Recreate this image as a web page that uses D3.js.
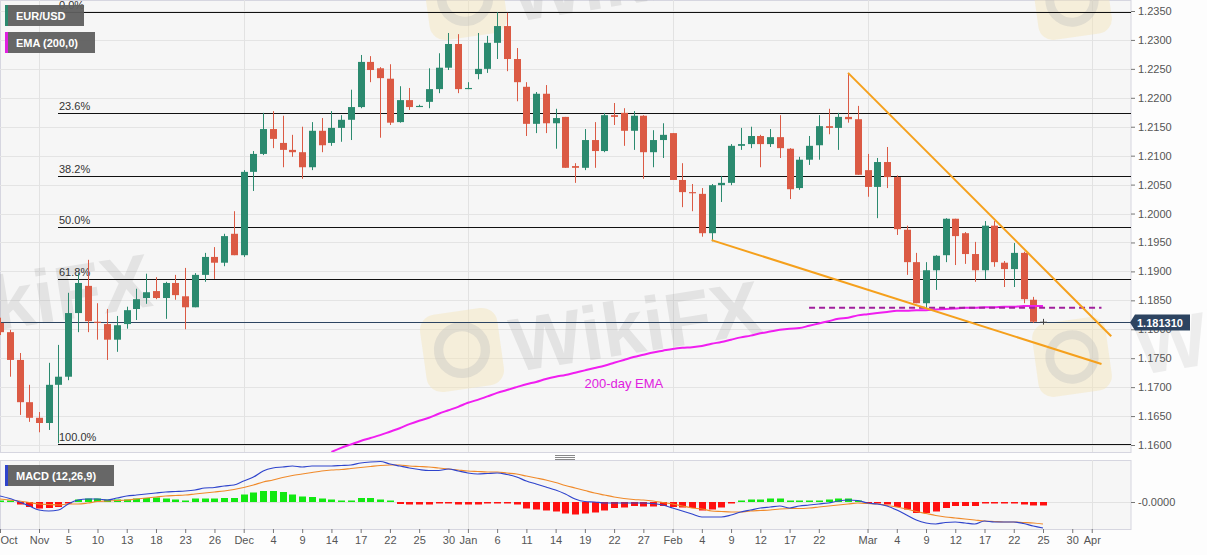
<!DOCTYPE html>
<html>
<head>
<meta charset="utf-8">
<script src="https://cdn.jsdelivr.net/npm/d3@7"></script>
<style>
  body { margin: 0; background: #fdfdfd; }
  svg { display: block; font-family: Arial, "Liberation Sans", sans-serif; }
</style>
</head>
<body>
<div id="chart"></div>
<script>
// trading days shown on the chart
const dates = [
  "2020-10-27","2020-10-28","2020-10-29","2020-10-30",
  "2020-11-02","2020-11-03","2020-11-04","2020-11-05","2020-11-06",
  "2020-11-09","2020-11-10","2020-11-11","2020-11-12","2020-11-13",
  "2020-11-16","2020-11-17","2020-11-18","2020-11-19","2020-11-20",
  "2020-11-23","2020-11-24","2020-11-25","2020-11-26","2020-11-27",
  "2020-11-30","2020-12-01","2020-12-02","2020-12-03","2020-12-04",
  "2020-12-07","2020-12-08","2020-12-09","2020-12-10","2020-12-11",
  "2020-12-14","2020-12-15","2020-12-16","2020-12-17","2020-12-18",
  "2020-12-21","2020-12-22","2020-12-23","2020-12-24","2020-12-25",
  "2020-12-28","2020-12-29","2020-12-30","2020-12-31","2021-01-01",
  "2021-01-04","2021-01-05","2021-01-06","2021-01-07","2021-01-08",
  "2021-01-11","2021-01-12","2021-01-13","2021-01-14","2021-01-15",
  "2021-01-18","2021-01-19","2021-01-20","2021-01-21","2021-01-22",
  "2021-01-25","2021-01-26","2021-01-27","2021-01-28","2021-01-29",
  "2021-02-01","2021-02-02","2021-02-03","2021-02-04","2021-02-05",
  "2021-02-08","2021-02-09","2021-02-10","2021-02-11","2021-02-12",
  "2021-02-15","2021-02-16","2021-02-17","2021-02-18","2021-02-19",
  "2021-02-22","2021-02-23","2021-02-24","2021-02-25","2021-02-26",
  "2021-03-01","2021-03-02","2021-03-03","2021-03-04","2021-03-05",
  "2021-03-08","2021-03-09","2021-03-10","2021-03-11","2021-03-12",
  "2021-03-15","2021-03-16","2021-03-17","2021-03-18","2021-03-19",
  "2021-03-22","2021-03-23","2021-03-24","2021-03-25"
];

// open, high, low, close per day
const ohlc = [
  [1.1811,1.1820,1.1790,1.1795],[1.1795,1.1799,1.1718,1.1747],[1.1747,1.1759,1.1652,1.1674],[1.1674,1.1704,1.1640,1.1647],
  [1.1647,1.1657,1.1622,1.1638],[1.1638,1.1742,1.1626,1.1704],[1.1704,1.1773,1.1603,1.1718],[1.1718,1.1863,1.1712,1.1828],[1.1828,1.1897,1.1795,1.1880],
  [1.1875,1.1920,1.1795,1.1814],[1.1813,1.1845,1.1782,1.1811],[1.1809,1.1835,1.1747,1.1782],[1.1782,1.1823,1.1761,1.1807],[1.1809,1.1839,1.1801,1.1833],
  [1.1835,1.1870,1.1816,1.1852],[1.1854,1.1896,1.1844,1.1864],[1.1866,1.1890,1.1852,1.1854],[1.1854,1.1882,1.1818,1.1880],[1.1880,1.1894,1.1851,1.1859],
  [1.1857,1.1906,1.1800,1.1838],[1.1838,1.1897,1.1838,1.1894],[1.1894,1.1932,1.1882,1.1925],[1.1925,1.1942,1.1887,1.1915],[1.1915,1.1965,1.1909,1.1961],
  [1.1965,1.2004,1.1928,1.1928],[1.1928,1.2075,1.1925,1.2072],[1.2072,1.2108,1.2039,1.2103],[1.2103,1.2174,1.2101,1.2146],[1.2146,1.2177,1.2113,1.2129],
  [1.2122,1.2169,1.2080,1.2110],[1.2110,1.2136,1.2098,1.2106],[1.2106,1.2150,1.2060,1.2080],[1.2080,1.2158,1.2075,1.2143],[1.2143,1.2165,1.2106,1.2118],
  [1.2122,1.2177,1.2117,1.2148],[1.2148,1.2170,1.2124,1.2162],[1.2162,1.2214,1.2127,1.2184],[1.2184,1.2274,1.2182,1.2262],[1.2262,1.2272,1.2227,1.2248],
  [1.2251,1.2253,1.2131,1.2234],[1.2233,1.2258,1.2153,1.2157],[1.2158,1.2220,1.2157,1.2196],[1.2196,1.2217,1.2179,1.2184],[1.2184,1.2188,1.2184,1.2186],
  [1.2193,1.2251,1.2182,1.2215],[1.2215,1.2277,1.2208,1.2252],[1.2252,1.2312,1.2248,1.2293],[1.2293,1.2310,1.2208,1.2215],[1.2215,1.2227,1.2215,1.2217],
  [1.2241,1.2312,1.2232,1.2250],[1.2250,1.2307,1.2243,1.2295],[1.2295,1.2348,1.2267,1.2324],[1.2324,1.2347,1.2246,1.2267],[1.2267,1.2286,1.2194,1.2227],
  [1.2219,1.2227,1.2134,1.2155],[1.2155,1.2210,1.2139,1.2207],[1.2207,1.2222,1.2139,1.2156],[1.2156,1.2181,1.2112,1.2165],[1.2167,1.2167,1.2079,1.2079],
  [1.2082,1.2087,1.2053,1.2079],[1.2079,1.2146,1.2075,1.2127],[1.2127,1.2158,1.2079,1.2108],[1.2108,1.2174,1.2106,1.2170],[1.2170,1.2191,1.2153,1.2167],
  [1.2174,1.2182,1.2117,1.2143],[1.2143,1.2177,1.2110,1.2169],[1.2169,1.2170,1.2060,1.2106],[1.2106,1.2144,1.2080,1.2127],[1.2127,1.2156,1.2096,1.2136],
  [1.2139,1.2139,1.2058,1.2058],[1.2058,1.2087,1.2011,1.2037],[1.2037,1.2051,1.2004,1.2035],[1.2034,1.2044,1.1960,1.1966],[1.1966,1.2051,1.1952,1.2049],
  [1.2049,1.2065,1.2020,1.2053],[1.2053,1.2120,1.2049,1.2117],[1.2117,1.2148,1.2110,1.2120],[1.2120,1.2150,1.2113,1.2134],[1.2134,1.2136,1.2080,1.2120],
  [1.2120,1.2146,1.2115,1.2132],[1.2132,1.2170,1.2096,1.2113],[1.2112,1.2113,1.2025,1.2042],[1.2044,1.2098,1.2041,1.2093],[1.2093,1.2134,1.2084,1.2117],
  [1.2118,1.2170,1.2093,1.2151],[1.2151,1.2181,1.2137,1.2148],[1.2148,1.2174,1.2110,1.2167],[1.2167,1.2243,1.2157,1.2163],[1.2163,1.2186,1.2067,1.2067],
  [1.2075,1.2103,1.2029,1.2046],[1.2046,1.2096,1.1992,1.2089],[1.2089,1.2115,1.2044,1.2063],[1.2063,1.2066,1.1963,1.1973],[1.1972,1.1979,1.1894,1.1916],
  [1.1916,1.1932,1.1845,1.1845],[1.1845,1.1916,1.1837,1.1902],[1.1902,1.1928,1.1868,1.1927],[1.1928,1.1992,1.1916,1.1991],[1.1991,1.1991,1.1911,1.1961],
  [1.1966,1.1968,1.1913,1.1930],[1.1930,1.1951,1.1882,1.1902],[1.1902,1.1987,1.1887,1.1979],[1.1979,1.1987,1.1908,1.1916],[1.1915,1.1918,1.1873,1.1904],
  [1.1904,1.1949,1.1873,1.1932],[1.1932,1.1934,1.1845,1.1852],[1.1851,1.1856,1.1811,1.1813],[1.1813,1.1818,1.1808,1.1813]
];

// 200-day EMA, visible from this day on
const emaFrom = "2020-12-14";
const ema200 = [
  1.1588,1.1595,1.1601,1.1607,1.1612,1.1617,1.1623,1.1629,1.1636,1.1642,1.1647,1.1654,1.1660,1.1666,
  1.1673,1.1678,1.1684,1.1690,1.1695,1.1700,1.1705,1.1709,1.1714,1.1718,1.1721,
  1.1725,1.1729,1.1733,1.1737,1.1742,1.1747,1.1752,1.1756,1.1760,1.1763,
  1.1766,1.1768,1.1769,1.1771,1.1775,1.1778,1.1782,1.1786,1.1789,1.1793,
  1.1796,1.1799,1.1801,1.1802,1.1806,1.1810,1.1814,1.1818,1.1820,1.1824,
  1.1826,1.1828,1.1830,1.1832,1.1832,1.1833,1.1833,1.1834,1.1835,1.1836,
  1.1837,1.1837,1.1838,1.1838,1.1839,1.1839,1.1840,1.1840,1.1840
];

// MACD (12,26,9)
const macdLine = [
  0.0012,0.0007,0.0000,-0.0008,
  -0.0016,-0.0018,-0.0016,-0.0004,0.0004, 0.0006,0.0006,0.0004,0.0008,0.0012,
  0.0014,0.0016,0.0018,0.0020,0.0021, 0.0022,0.0024,0.0028,0.0029,0.0032,
  0.0034,0.0042,0.0050,0.0062,0.0068, 0.0070,0.0072,0.0070,0.0072,0.0072,
  0.0072,0.0073,0.0074,0.0078,0.0080, 0.0081,0.0076,0.0072,0.0068,0.0065,
  0.0063,0.0063,0.0066,0.0062,0.0058, 0.0056,0.0057,0.0058,0.0055,0.0050,
  0.0042,0.0036,0.0030,0.0024,0.0016, 0.0006,0.0001,0.0000,-0.0002,-0.0002,
  -0.0002,-0.0002,-0.0002,-0.0003,-0.0006, -0.0012,-0.0018,-0.0024,-0.0030,-0.0030,
  -0.0030,-0.0026,-0.0020,-0.0016,-0.0012, -0.0010,-0.0008,-0.0012,-0.0008,-0.0006,
  -0.0004,-0.0002,0.0002,0.0004,0.0003, -0.0002,-0.0004,-0.0008,-0.0016,-0.0026,
  -0.0036,-0.0042,-0.0044,-0.0041,-0.0040, -0.0042,-0.0044,-0.0038,-0.0040,-0.0040,
  -0.0040,-0.0043,-0.0048,-0.0052
];
const signalLine = [
  0.0006,0.0004,0.0002,-0.0001,
  -0.0004,-0.0005,-0.0006,-0.0004,-0.0004, -0.0002,0.0001,0.0002,0.0003,0.0004,
  0.0006,0.0008,0.0010,0.0012,0.0013, 0.0014,0.0016,0.0018,0.0020,0.0022,
  0.0025,0.0029,0.0034,0.0040,0.0044, 0.0049,0.0053,0.0056,0.0059,0.0062,
  0.0064,0.0065,0.0067,0.0069,0.0071, 0.0073,0.0074,0.0074,0.0072,0.0071,
  0.0070,0.0068,0.0066,0.0064,0.0062, 0.0061,0.0060,0.0060,0.0058,0.0056,
  0.0052,0.0048,0.0044,0.0039,0.0033, 0.0028,0.0023,0.0018,0.0014,0.0010,
  0.0007,0.0005,0.0004,0.0002,-0.0001, -0.0004,-0.0008,-0.0012,-0.0014,-0.0018,
  -0.0019,-0.0020,-0.0020,-0.0018,-0.0017, -0.0016,-0.0014,-0.0013,-0.0013,-0.0012,
  -0.0010,-0.0008,-0.0006,-0.0004,-0.0002, -0.0003,-0.0004,-0.0007,-0.0010,-0.0014,
  -0.0019,-0.0023,-0.0027,-0.0030,-0.0032, -0.0034,-0.0036,-0.0038,-0.0039,-0.0040,
  -0.0040,-0.0041,-0.0042,-0.0044
];
const histogram = [
  0.0001,0.0001,-0.0005,-0.0010,
  -0.0013,-0.0012,-0.0010,-0.0001,0.0005, 0.0007,0.0007,0.0005,0.0005,0.0005,
  0.0007,0.0008,0.0009,0.0007,0.0005, 0.0003,0.0007,0.0007,0.0007,0.0008,
  0.0008,0.0015,0.0019,0.0022,0.0022, 0.0020,0.0015,0.0011,0.0010,0.0007,
  0.0005,0.0003,0.0003,0.0008,0.0008, 0.0005,0.0001,-0.0004,-0.0005,-0.0005,
  -0.0005,-0.0001,-0.0001,-0.0005,-0.0005, -0.0005,-0.0001,-0.0001,-0.0001,-0.0005,
  -0.0013,-0.0015,-0.0017,-0.0019,-0.0023, -0.0025,-0.0023,-0.0021,-0.0017,-0.0012,
  -0.0011,-0.0008,-0.0009,-0.0009,-0.0008, -0.0010,-0.0011,-0.0012,-0.0017,-0.0015,
  -0.0011,-0.0002,0.0000,0.0005,0.0005, 0.0007,0.0007,0.0003,0.0003,0.0002,
  0.0003,0.0005,0.0007,0.0007,0.0003, -0.0001,-0.0003,-0.0005,-0.0010,-0.0015,
  -0.0022,-0.0022,-0.0019,-0.0012,-0.0008, -0.0008,-0.0008,-0.0001,-0.0001,-0.0001,
  -0.0001,-0.0005,-0.0007,-0.0007
];

// fibonacci retracement of the Nov low / Jan high swing
const fibLabels = ["0.0%", "23.6%", "38.2%", "50.0%", "61.8%", "100.0%"];
const fibPrices = [1.2349, 1.2173, 1.2064, 1.1976, 1.1887, 1.1602];
const fibFrom = "2020-11-04";

// hand drawn lines: [date, price]
const upperTrend = [["2021-02-25", 1.2243], ["2021-04-05", 1.1788]];
const lowerTrend = [["2021-02-05", 1.1954], ["2021-04-02", 1.1740]];
const supportLine = [["2021-02-19", 1.1837], ["2021-04-02", 1.1837]];
const lastPrice = 1.181310;

const yTicks = [1.2350, 1.2300, 1.2250, 1.2200, 1.2150, 1.2100, 1.2050, 1.2000,
  1.1950, 1.1900, 1.1850, 1.1800, 1.1750, 1.1700, 1.1650, 1.1600];
const tickDates = ["2020-10-27","2020-11-02","2020-11-05","2020-11-10","2020-11-13","2020-11-18",
  "2020-11-23","2020-11-26","2020-12-01","2020-12-04","2020-12-09","2020-12-14","2020-12-17",
  "2020-12-22","2020-12-25","2020-12-30","2021-01-01","2021-01-06","2021-01-11","2021-01-14",
  "2021-01-19","2021-01-22","2021-01-27","2021-02-01","2021-02-04","2021-02-09","2021-02-12",
  "2021-02-17","2021-02-22","2021-03-01","2021-03-04","2021-03-09","2021-03-12","2021-03-17",
  "2021-03-22","2021-03-25","2021-03-30","2021-04-01"];
const tickLabels = ["Oct","Nov","5","10","13","18","23","26","Dec","4","9","14","17","22","25","30",
  "Jan","6","11","14","19","22","27","Feb","4","9","12","17","22","Mar","4","9","12","17","22","25","30","Apr"];
const monthStarts = ["2020-11-02","2020-12-01","2021-01-01","2021-02-01","2021-03-01","2021-04-01"];

const width = 1207, height = 555;
const plotRight = 1131;
const main = {top: 0, bottom: 452};
const macdPanel = {top: 460, bottom: 529};

const up = "#2b8a6f", down = "#db5a44";

const parseDate = d3.utcParse("%Y-%m-%d");
const baseDay = parseDate("2020-11-02");

// position of a date counted in weekdays from Nov 2
function tradingIndex(s) {
  const t = parseDate(s);
  const step = t >= baseDay ? 1 : -1;
  const d = new Date(baseDay);
  let n = 0;
  while (+d !== +t) {
    d.setUTCDate(d.getUTCDate() + step);
    const wd = d.getUTCDay();
    if (wd !== 0 && wd !== 6) n += step;
  }
  return n;
}

const x = d3.scaleLinear().domain([0, 103]).range([39, 1043]);
const y = d3.scaleLinear().domain([1.16, 1.235]).range([445, 11]);
const yM = d3.scaleLinear().domain([-0.0054, 0.0084]).range([macdPanel.bottom, macdPanel.top]);

const candles = dates.map(function(d, i) {
  return {k: tradingIndex(d), o: ohlc[i][0], h: ohlc[i][1], l: ohlc[i][2], c: ohlc[i][3],
    macd: macdLine[i], signal: signalLine[i], hist: histogram[i]};
});
const emaStart = tradingIndex(emaFrom);
const emaPts = ema200.map(function(v, i) { return {k: emaStart + i, v: v}; });

const svg = d3.select("#chart").append("svg")
  .attr("width", width)
  .attr("height", height);

svg.append("defs").append("clipPath").attr("id", "mainClip")
  .append("rect").attr("x", 0).attr("y", main.top).attr("width", plotRight).attr("height", main.bottom - main.top);

// panels
svg.append("rect").attr("x", 0.5).attr("y", main.top + 0.5)
  .attr("width", plotRight - 0.5).attr("height", main.bottom - main.top)
  .attr("fill", "#f6f6f6").attr("stroke", "#d6d6e0");
svg.append("rect").attr("x", 0.5).attr("y", macdPanel.top + 0.5)
  .attr("width", plotRight - 0.5).attr("height", macdPanel.bottom - macdPanel.top)
  .attr("fill", "#f6f6f6").attr("stroke", "#d6d6e0");

// grid
svg.append("g").selectAll("line").data(yTicks).join("line")
  .attr("x1", 0).attr("x2", plotRight)
  .attr("y1", d => Math.round(y(d)) + 0.5).attr("y2", d => Math.round(y(d)) + 0.5)
  .attr("stroke", "#e4e4e4");
svg.append("line").attr("x1", 0).attr("x2", plotRight)
  .attr("y1", Math.round(yM(0)) + 0.5).attr("y2", Math.round(yM(0)) + 0.5)
  .attr("stroke", "#e2e2e2");
const vgrid = svg.append("g");
monthStarts.forEach(function(m) {
  const px = Math.round(x(tradingIndex(m))) + 0.5;
  vgrid.append("line").attr("x1", px).attr("x2", px).attr("y1", main.top).attr("y2", main.bottom).attr("stroke", "#e2e2e2");
  vgrid.append("line").attr("x1", px).attr("x2", px).attr("y1", macdPanel.top).attr("y2", macdPanel.bottom).attr("stroke", "#e2e2e2");
});

// watermarks
const wm = svg.append("g").attr("clip-path", "url(#mainClip)");
function logo(cx, cy, s) {
  const g = wm.append("g").attr("transform", "translate(" + cx + "," + cy + ") rotate(-8)");
  g.append("rect").attr("x", -s / 2).attr("y", -s / 2).attr("width", s).attr("height", s)
    .attr("rx", s * 0.2).attr("fill", "#f3e4b8").attr("opacity", 0.45);
  g.append("circle").attr("r", s * 0.3).attr("fill", "none")
    .attr("stroke", "#bdbdbd").attr("stroke-width", s * 0.12).attr("opacity", 0.35);
}
function wmText(px, py, size) {
  wm.append("text").attr("transform", "translate(" + px + "," + py + ") rotate(-9)")
    .attr("font-size", size).attr("font-weight", "bold").attr("fill", "#999")
    .attr("opacity", 0.2).text("WikiFX");
}
logo(462, 350, 78);
wmText(515, 372, 76);
logo(1072, 357, 74);
logo(465, -2, 78);
wmText(515, 22, 76);
logo(1072, 0, 74);
wmText(-95, 345, 76);
svg.append("text").attr("transform", "translate(1140,375) rotate(-9)")
  .attr("font-size", 76).attr("font-weight", "bold").attr("fill", "#999")
  .attr("opacity", 0.15).text("Wi");

const plot = svg.append("g").attr("clip-path", "url(#mainClip)");

// fibonacci levels
const fibX = Math.round(x(tradingIndex(fibFrom)));
plot.selectAll(".fib").data(fibPrices).join("line")
  .attr("class", "fib")
  .attr("x1", fibX).attr("x2", plotRight)
  .attr("y1", d => Math.round(y(d)) + 0.5).attr("y2", d => Math.round(y(d)) + 0.5)
  .attr("stroke", "#111").attr("stroke-width", 1);
plot.selectAll(".fibLabel").data(fibPrices).join("text")
  .attr("class", "fibLabel")
  .attr("x", fibX + 1).attr("y", d => Math.round(y(d)) - 3)
  .attr("font-size", 11).attr("fill", "#333")
  .text((d, i) => fibLabels[i]);

// last price line
plot.append("line").attr("x1", 0).attr("x2", plotRight)
  .attr("y1", Math.round(y(lastPrice)) + 0.5).attr("y2", Math.round(y(lastPrice)) + 0.5)
  .attr("stroke", "#2d4461").attr("stroke-width", 1);

// candles
const cg = plot.append("g");
cg.selectAll(".wick").data(candles).join("line")
  .attr("x1", d => Math.round(x(d.k)) + 0.5).attr("x2", d => Math.round(x(d.k)) + 0.5)
  .attr("y1", d => y(d.h)).attr("y2", d => y(d.l))
  .attr("stroke", d => d.c > d.o ? up : (d.c < d.o ? down : "#444"));
cg.selectAll(".body").data(candles).join("rect")
  .attr("x", d => Math.round(x(d.k)) - 3)
  .attr("width", 7)
  .attr("y", d => y(Math.max(d.o, d.c)))
  .attr("height", d => Math.max(1, Math.abs(y(d.o) - y(d.c))))
  .attr("fill", d => d.c > d.o ? up : (d.c < d.o ? down : "#444"));

// 200-day EMA
plot.append("path").datum(emaPts)
  .attr("fill", "none").attr("stroke", "#f01ef0").attr("stroke-width", 2)
  .attr("d", d3.line().x(d => x(d.k)).y(d => y(d.v)).curve(d3.curveMonotoneX));
plot.append("text")
  .attr("x", x(tradingIndex("2021-01-25"))).attr("y", y(1.1699))
  .attr("text-anchor", "middle").attr("font-size", 13).attr("fill", "#e020e0")
  .text("200-day EMA");

// trend lines
const seg = d3.line().x(d => x(tradingIndex(d[0]))).y(d => y(d[1]));
plot.append("path").datum(supportLine).attr("d", seg)
  .attr("stroke", "#a0209c").attr("stroke-width", 2).attr("stroke-dasharray", "6,4").attr("fill", "none");
plot.append("path").datum(upperTrend).attr("d", seg)
  .attr("stroke", "#f5a01c").attr("stroke-width", 2).attr("fill", "none");
plot.append("path").datum(lowerTrend).attr("d", seg)
  .attr("stroke", "#f5a01c").attr("stroke-width", 2).attr("fill", "none");

// MACD histogram and lines
const z0 = yM(0);
svg.append("g").selectAll("rect").data(candles).join("rect")
  .attr("x", d => Math.round(x(d.k)) - 3)
  .attr("width", 7)
  .attr("y", d => d.hist >= 0 ? Math.min(yM(d.hist), z0 - 1.5) : z0)
  .attr("height", d => Math.max(1.5, Math.abs(yM(d.hist) - z0)))
  .attr("fill", d => d.hist >= 0 ? "#12e812" : "#ff1010");
svg.append("path").datum(candles)
  .attr("fill", "none").attr("stroke", "#f08a2a").attr("stroke-width", 1.2)
  .attr("d", d3.line().x(d => x(d.k)).y(d => yM(d.signal)).curve(d3.curveMonotoneX));
svg.append("path").datum(candles)
  .attr("fill", "none").attr("stroke", "#2f44cc").attr("stroke-width", 1.2)
  .attr("d", d3.line().x(d => x(d.k)).y(d => yM(d.macd)).curve(d3.curveMonotoneX));

// axes
const yAxis = svg.append("g")
  .attr("transform", "translate(" + plotRight + ",0)")
  .call(d3.axisRight(y).tickValues(yTicks).tickFormat(d3.format(".4f")).tickSize(4).tickPadding(3));
const macdAxis = svg.append("g")
  .attr("transform", "translate(" + plotRight + ",0)")
  .call(d3.axisRight(yM).tickValues([0]).tickFormat(() => "-0.0000").tickSize(4).tickPadding(3));
const xAxis = svg.append("g")
  .attr("transform", "translate(0," + macdPanel.bottom + ")")
  .call(d3.axisBottom(x).tickValues(tickDates.map(tradingIndex))
    .tickFormat((d, i) => tickLabels[i]).tickSize(4).tickPadding(3));
[yAxis, macdAxis, xAxis].forEach(function(a) {
  a.select(".domain").remove();
  a.selectAll(".tick line").attr("stroke", "#777");
  a.selectAll(".tick text").attr("fill", "#555").attr("font-size", 11)
    .attr("font-family", "Arial, 'Liberation Sans', sans-serif");
});
xAxis.select(".tick text").attr("text-anchor", "start").attr("x", 0);

// last price tag
const ly = Math.round(y(lastPrice)) + 0.5;
svg.append("path")
  .attr("d", "M" + (plotRight - 1) + "," + ly + "L" + (plotRight + 4) + "," + (ly - 8) +
    "H1190V" + (ly + 8) + "H" + (plotRight + 4) + "Z")
  .attr("fill", "#2d4461");
svg.append("text").attr("x", plotRight + 6).attr("y", ly + 4)
  .attr("font-size", 11).attr("font-weight", "bold").attr("fill", "#fff")
  .text(lastPrice.toFixed(6));

// legend boxes
function tag(px, py, w, label, color) {
  svg.append("rect").attr("x", px).attr("y", py).attr("width", w).attr("height", 21)
    .attr("fill", "#5f5f5f").attr("opacity", 0.95);
  svg.append("rect").attr("x", px).attr("y", py).attr("width", 3).attr("height", 21)
    .attr("fill", color);
  svg.append("text").attr("x", px + 11).attr("y", py + 15)
    .attr("font-size", 11).attr("font-weight", "bold").attr("fill", "#fff").text(label);
}
tag(5, 5, 79, "EUR/USD", up);
tag(5, 32, 90, "EMA (200,0)", "#e020e0");
tag(5, 465, 109, "MACD (12,26,9)", "#2f44cc");

// panel resize handle
svg.append("g").selectAll("line").data([455, 457, 459]).join("line")
  .attr("x1", 555).attr("x2", 575).attr("y1", d => d + 0.5).attr("y2", d => d + 0.5)
  .attr("stroke", "#888");
</script>
</body>
</html>
